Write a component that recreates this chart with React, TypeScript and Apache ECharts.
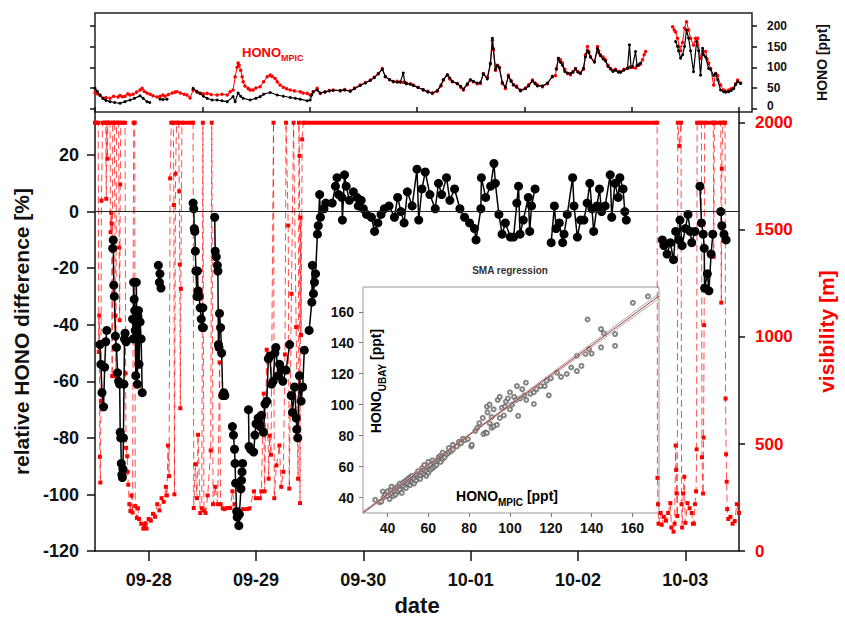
import React, { useEffect, useRef } from 'react';
import * as echarts from 'echarts';

const FONT = '"Liberation Sans", Arial, Helvetica, sans-serif';

// ---------- axes ----------
const dateTicks = [1, 2, 3, 4, 5, 6];
const dateLabels = ['09-28', '09-29', '09-30', '10-01', '10-02', '10-03'];
const halfDayTicks = [0.5, 1.5, 2.5, 3.5, 4.5, 5.5, 6.5];
const relTicks = [-120, -100, -80, -60, -40, -20, 0, 20];
const visTicks = [0, 500, 1000, 1500, 2000];
const honoTicks = [0, 50, 100, 150, 200];
const insetTicks = [40, 60, 80, 100, 120, 140, 160];

// ---------- top panel: HONO [ppt], x = days since 09-27 00:00 ----------
const honoMPIC: (number[] | null)[] = [
  [0.5, 39], [0.52, 36], [0.546, 32], [0.573, 25], [0.6, 27], [0.637, 25], [0.67, 30], [0.71, 28], [0.729, 32], [0.75, 29],
  [0.774, 30], [0.8, 36], [0.82, 33], [0.847, 35], [0.88, 40], [0.911, 45], [0.93, 49], [0.95, 42], [0.975, 38], [1.003, 35],
  [1.03, 31], [1.067, 28], [1.094, 30], [1.12, 33], [1.14, 30], [1.17, 34], [1.204, 38], [1.23, 40], [1.25, 41], [1.28, 38],
  [1.314, 35], [1.34, 33], [1.368, 26], [1.396, 45], [1.432, 40], [1.46, 37], [1.49, 36], [1.524, 37], [1.56, 34], [1.615, 33],
  [1.66, 35], [1.707, 33], [1.734, 41], [1.761, 45], [1.78, 77], [1.798, 100], [1.807, 110], [1.816, 105], [1.83, 93], [1.844, 77],
  [1.853, 65], [1.87, 55], [1.899, 49], [1.917, 45], [1.944, 45], [1.97, 50], [2.008, 53], [2.04, 65], [2.072, 77], [2.1, 81],
  [2.118, 78], [2.145, 73], [2.164, 65], [2.19, 57], [2.22, 52], [2.25, 48], [2.283, 45], [2.32, 43], [2.374, 41], [2.4, 38],
  [2.438, 37], [2.465, 33], [2.493, 41], [2.529, 49], [2.557, 37], [2.6, 41], [2.64, 44], [2.676, 45], [2.74, 43], [2.78, 46],
  [2.831, 43], [2.87, 50], [2.922, 57], [2.97, 63], [3.014, 69], [3.05, 76], [3.087, 85], [3.124, 97], [3.151, 77], [3.19, 70],
  [3.224, 65], [3.26, 66], [3.288, 65], [3.315, 64], [3.343, 62], [3.38, 60], [3.407, 57], [3.45, 52], [3.498, 45], [3.54, 42],
  [3.581, 37], [3.626, 42], [3.66, 55], [3.681, 69], [3.718, 81], [3.74, 72], [3.763, 65], [3.809, 61], [3.84, 52], [3.864, 45],
  [3.9, 58], [3.928, 69], [3.955, 65], [3.99, 60], [4.019, 61], [4.047, 85], [4.083, 75], [4.111, 110], [4.129, 165], [4.138, 142],
  [4.157, 93], [4.175, 105], [4.193, 100], [4.22, 61], [4.248, 49], [4.275, 81], [4.3, 68], [4.321, 57], [4.35, 55], [4.385, 45],
  [4.431, 50], [4.46, 58], [4.495, 69], [4.52, 62], [4.54, 57], [4.586, 53], [4.632, 60], [4.677, 77], [4.705, 80], [4.714, 97],
  [4.732, 120], [4.75, 118], [4.769, 110], [4.79, 95], [4.815, 85], [4.842, 82], [4.865, 90], [4.888, 97], [4.91, 90], [4.933, 85],
  [4.961, 95], [4.979, 130], [4.997, 150], [5.01, 138], [5.025, 126], [5.061, 114], [5.089, 150], [5.1, 140], [5.116, 130], [5.14, 125],
  [5.162, 118], [5.185, 105], [5.208, 97], [5.23, 92], [5.253, 95], [5.28, 90], [5.299, 89], [5.33, 95], [5.363, 97], [5.381, 100],
  [5.409, 100], [5.436, 98], [5.464, 105], [5.482, 108], [5.5, 118], [5.515, 130], [5.528, 138], null,
  [5.775, 198], [5.79, 190], [5.802, 185], [5.82, 170], [5.835, 150], [5.848, 140], [5.866, 160], [5.884, 195], [5.902, 210], [5.921, 190],
  [5.939, 170], [5.966, 154], [5.985, 170], [6.003, 170], [6.03, 122], [6.049, 140], [6.076, 138], [6.09, 120], [6.104, 110], [6.122, 97],
  [6.15, 57], [6.168, 85], [6.186, 80], [6.213, 57], [6.241, 45], [6.26, 42], [6.287, 45], [6.31, 48], [6.332, 50], [6.35, 60],
  [6.369, 69], [6.396, 62],
];

const honoUBAY: (number[] | null)[] = [
  [0.5, 49], [0.52, 42], [0.546, 33], [0.573, 25], [0.6, 20], [0.637, 17], [0.68, 15], [0.729, 13], [0.774, 17], [0.82, 21],
  [0.86, 25], [0.911, 31], [0.94, 25], [0.975, 17], [1.0, 15], null,
  [1.094, 23], [1.12, 22], [1.158, 23], null,
  [1.396, 49], [1.43, 42], [1.46, 37], [1.49, 30], [1.524, 25], [1.57, 21], [1.615, 21], [1.66, 19], [1.707, 17], [1.761, 29],
  [1.78, 17], [1.807, 38], [1.83, 30], [1.853, 25], [1.917, 21], [1.97, 25], [2.008, 29], [2.04, 35], [2.1, 39], [2.164, 33],
  [2.22, 30], [2.283, 27], [2.33, 25], [2.374, 23], [2.438, 19], [2.465, 21], [2.48, 33], [2.493, 41], [2.529, 45], [2.557, 38],
  [2.6, 40], [2.64, 43], [2.676, 44], [2.74, 44], [2.78, 45], [2.831, 42], [2.87, 48], [2.922, 56], [2.97, 62], [3.014, 68],
  [3.05, 75], [3.087, 84], [3.124, 95], [3.151, 78], [3.19, 70], [3.224, 66], [3.26, 64], [3.288, 64], [3.315, 86], [3.33, 63],
  [3.343, 60], [3.38, 59], [3.407, 56], [3.45, 51], [3.498, 46], [3.54, 40], [3.581, 38], [3.626, 44], [3.66, 57], [3.681, 70],
  [3.718, 82], [3.74, 74], [3.763, 66], [3.809, 60], [3.84, 54], [3.864, 47], [3.9, 60], [3.928, 70], [3.955, 66], [3.99, 62],
  [4.019, 63], [4.047, 84], [4.083, 72], [4.111, 108], [4.129, 170], [4.138, 145], [4.157, 95], [4.175, 104], [4.193, 98], [4.22, 63],
  [4.248, 52], [4.275, 78], [4.3, 66], [4.321, 58], [4.35, 52], [4.385, 43], [4.431, 48], [4.46, 55], [4.495, 67], [4.52, 60],
  [4.54, 55], [4.586, 55], [4.632, 62], [4.677, 78], null,
  [4.714, 95], [4.732, 122], [4.75, 112], [4.769, 105], [4.79, 90], [4.815, 86], [4.842, 85], [4.865, 88], [4.888, 96], [4.91, 88],
  [4.933, 86], [4.961, 98], [4.979, 125], [4.997, 140], [5.01, 135], [5.025, 124], [5.061, 112], [5.089, 145], [5.1, 135], [5.116, 128],
  [5.14, 120], [5.162, 115], [5.185, 102], [5.208, 96], [5.23, 90], [5.253, 93], [5.28, 88], [5.299, 88], [5.33, 93], [5.363, 98],
  [5.381, 154], [5.395, 100], [5.409, 102], [5.436, 138], [5.45, 104], [5.464, 106], [5.482, 110], null,
  [5.802, 162], [5.82, 150], [5.829, 140], [5.848, 122], [5.866, 130], [5.884, 150], [5.902, 190], [5.921, 170], [5.939, 140], [5.966, 89],
  [5.994, 162], [6.012, 140], [6.03, 81], [6.049, 146], [6.058, 130], [6.076, 125], [6.104, 97], [6.122, 95], [6.15, 80], [6.168, 85],
  [6.186, 70], [6.213, 45], [6.241, 41], [6.26, 40], [6.287, 41], [6.31, 44], [6.332, 48], [6.35, 58], [6.369, 65], [6.396, 61],
];

// ---------- main panel: relative HONO difference [%] ----------
const relDiff: (number[] | null)[] = [
  [0.546, -47], [0.555, -54], [0.565, -64], [0.58, -69], [0.59, -55], [0.6, -46], [0.61, -42], null,
  [0.665, -13], [0.67, -10], [0.675, -26], [0.68, -30], [0.69, -44], [0.7, -48], [0.71, -57], [0.72, -60], [0.73, -61], [0.735, -78],
  [0.74, -80], [0.745, -89], [0.75, -93], [0.755, -94], [0.76, -91], [0.765, -80], [0.77, -61], [0.775, -45], [0.78, -43], [0.79, -46], null,
  [0.85, -38], [0.855, -45], [0.86, -25], [0.865, -31], [0.87, -35], [0.875, -42], [0.88, -58], [0.885, -25], [0.89, -39], [0.895, -61],
  [0.9, -37], [0.905, -35], [0.91, -54], [0.92, -39], [0.93, -45], [0.94, -64], null,
  [1.09, -19], [1.1, -25], [1.105, -22], [1.115, -27], null,
  [1.414, 3], [1.42, 1], [1.425, -6], [1.43, -7], [1.435, -14], [1.44, -21], [1.45, -30], [1.455, -21], [1.46, -28], [1.47, -30],
  [1.48, -34], [1.49, -38], [1.5, -41], [1.505, -34], [1.51, -41], null,
  [1.615, -2], [1.62, -14], [1.63, -16], [1.64, -19], [1.645, -21], [1.65, -47], [1.655, -48], [1.66, -36], [1.67, -41], [1.68, -50],
  [1.69, -65], [1.7, -64], [1.71, -65], null,
  [1.78, -76], [1.79, -79], [1.8, -84], [1.805, -89], [1.81, -96], [1.82, -106], [1.825, -108], [1.84, -111], [1.845, -107], [1.86, -98],
  [1.865, -95], [1.87, -92], [1.875, -89], null,
  [1.93, -70], [1.935, -83], [1.95, -84], [1.978, -85], [1.99, -79], [2.0, -75], [2.02, -73], [2.038, -76], [2.05, -72], [2.07, -78],
  [2.084, -68], [2.1, -67], [2.115, -52], [2.13, -51], [2.145, -61], [2.16, -60], [2.176, -50], [2.185, -48], [2.206, -58], [2.22, -54],
  [2.236, -56], [2.25, -60], [2.28, -56], [2.313, -47], null,
  [2.328, -65], [2.34, -71], [2.36, -62], [2.374, -73], [2.38, -77], [2.389, -80], [2.405, -58], [2.42, -67], [2.435, -62], [2.45, -49], null,
  [2.495, -42], [2.52, -32], [2.525, -19], [2.535, -29], [2.545, -25], [2.555, -22], [2.572, -8], [2.58, -5], [2.593, 6], [2.6, -2],
  [2.633, 1], [2.65, 3], [2.71, 3], [2.74, 9], [2.755, 12], [2.77, 6], [2.8, 5], [2.805, -3], [2.825, 13], [2.84, 9],
  [2.87, 4], [2.907, 7], [2.94, 5], [2.953, 2], [2.98, 4], [3.0, 1], [3.03, -1], [3.075, -2], [3.105, -7], [3.135, -4],
  [3.165, -1], [3.196, 1], [3.24, 2], [3.29, -2], [3.32, 5], [3.35, 0], [3.38, -4], [3.41, 7], [3.455, 2], [3.5, 15],
  [3.516, -3], [3.546, 8], [3.577, 14], [3.62, 6], [3.67, 1], [3.7, 10], [3.73, 6], [3.775, 12], [3.806, 4], [3.85, 8],
  [3.9, 1], [3.943, -2], [3.99, -4], [4.035, -6], [4.05, -10], [4.095, 1], [4.1, 12], [4.14, 5], [4.186, 9], [4.217, 17],
  [4.23, 10], [4.263, -1], [4.293, -8], [4.323, -4], [4.37, -9], [4.4, -9], [4.43, 3], [4.446, 9], [4.46, -8], [4.49, -3],
  [4.537, 5], [4.55, -7], [4.567, 2], [4.6, 8], null,
  [4.75, -11], [4.78, 2], [4.796, -6], [4.826, -4], [4.857, -11], [4.87, -8], [4.9, -1], [4.95, 12], [4.963, 2], [4.994, -9],
  [5.024, -3], [5.055, -3], [5.085, 3], [5.11, 10], [5.13, 1], [5.146, -7], [5.177, 2], [5.2, 8], [5.22, 0], [5.253, 2],
  [5.3, 13], [5.314, -2], [5.344, 10], [5.375, 5], [5.39, 12], [5.42, 8], [5.436, 0], [5.45, -3], null,
  [5.786, -10], [5.8, -12], [5.83, -15], [5.86, -11], [5.89, -17], [5.91, -7], [5.94, -10], [5.95, -3], [5.97, -12], [6.0, -6],
  [6.025, -1], [6.045, -7], [6.06, -11], [6.09, -7], null,
  [6.136, 9], [6.15, -4], [6.167, -8], [6.176, -13], [6.18, -27], [6.205, -22], [6.22, -28], [6.24, -15], [6.256, -8], null,
  [6.33, 0], [6.34, -5], [6.36, -8], [6.38, -10],
];

// ---------- main panel: visibility [m] ----------
const visibility: number[][] = [
  [0.5, 2000], [0.53, 2000], [0.535, 930], [0.54, 1100], [0.545, 440], [0.55, 320], [0.555, 700], [0.56, 1636], [0.57, 2000], [0.6, 2000],
  [0.605, 1645], [0.61, 2000], [0.615, 1832], [0.62, 2000], [0.64, 2000], [0.645, 1489], [0.65, 1580], [0.655, 1530], [0.66, 817], [0.665, 2000],
  [0.68, 2000], [0.69, 1100], [0.695, 817], [0.7, 2000], [0.72, 2000], [0.725, 1417], [0.73, 1078], [0.735, 1712], [0.74, 2000], [0.78, 2000],
  [0.785, 830], [0.79, 482], [0.8, 443], [0.805, 370], [0.81, 310], [0.82, 219], [0.83, 187], [0.84, 260], [0.85, 180], [0.86, 2000],
  [0.87, 2000], [0.875, 210], [0.89, 155], [0.9, 200], [0.91, 150], [0.93, 128], [0.95, 105], [0.96, 120], [0.97, 130], [0.98, 105],
  [1.0, 150], [1.02, 142], [1.04, 174], [1.06, 160], [1.08, 219], [1.1, 190], [1.12, 247], [1.14, 230], [1.16, 300], [1.17, 260],
  [1.18, 493], [1.19, 350], [1.2, 1740], [1.21, 2000], [1.23, 2000], [1.235, 1616], [1.24, 265], [1.25, 1762], [1.26, 2000], [1.28, 2000],
  [1.285, 1680], [1.29, 1338], [1.295, 667], [1.3, 1224], [1.31, 2000], [1.414, 2000], [1.42, 201], [1.435, 406], [1.45, 247], [1.46, 543],
  [1.48, 178], [1.495, 200], [1.505, 2000], [1.515, 190], [1.53, 178], [1.55, 260], [1.578, 470], [1.588, 2000], [1.6, 219], [1.62, 300],
  [1.643, 219], [1.661, 881], [1.67, 219], [1.69, 200], [1.706, 196], [1.73, 201], [1.761, 201], [1.78, 279], [1.8, 219], [1.82, 170],
  [1.853, 187], [1.88, 196], [1.917, 196], [1.94, 200], [1.981, 279], [2.0, 247], [2.036, 247], [2.05, 279], [2.072, 735], [2.08, 279],
  [2.1, 940], [2.118, 338], [2.127, 539], [2.14, 450], [2.163, 2000], [2.17, 247], [2.19, 400], [2.218, 493], [2.235, 300], [2.255, 370],
  [2.27, 918], [2.28, 2000], [2.3, 1520], [2.31, 292], [2.33, 1201], [2.35, 2000], [2.374, 1046], [2.392, 338], [2.4, 2000], [2.405, 1845],
  [2.41, 224], [2.415, 1557], [2.42, 1009], [2.43, 1922], [2.44, 2000], [5.737, 2000], [5.74, 342], [5.745, 219], [5.75, 128], [5.77, 178],
  [5.78, 123], [5.8, 160], [5.82, 142], [5.84, 178], [5.86, 224], [5.87, 110], [5.89, 91], [5.9, 128], [5.91, 493], [5.915, 379],
  [5.92, 269], [5.925, 164], [5.93, 2000], [5.945, 1892], [5.96, 2000], [5.965, 219], [5.97, 110], [5.98, 269], [5.99, 347], [6.0, 132],
  [6.02, 224], [6.04, 200], [6.06, 178], [6.07, 128], [6.08, 128], [6.09, 219], [6.1, 279], [6.105, 475], [6.11, 2000], [6.15, 2000],
  [6.155, 438], [6.165, 269], [6.17, 530], [6.175, 1055], [6.18, 2000], [6.26, 2000], [6.265, 1374], [6.27, 2000], [6.33, 2000], [6.335, 1160],
  [6.34, 1785], [6.35, 2000], [6.37, 2000], [6.375, 712], [6.38, 452], [6.385, 324], [6.39, 196], [6.4, 150], [6.42, 160], [6.44, 128],
  [6.46, 140], [6.48, 219], [6.5, 178],
];

// ---------- inset: HONO_MPIC vs HONO_UBAY [ppt] ----------
const insetPoints: number[][] = [
  [34, 38.5], [36, 37], [37, 37.4], [37.7, 43.9], [38, 40], [39, 42], [40, 41], [40, 44], [41, 39], [41.5, 45],
  [42, 43], [42, 47], [43, 41], [43.5, 44], [44, 46], [44, 42], [45, 47], [45, 44], [46, 45], [46, 49],
  [47, 43], [47, 48], [48, 47], [48, 50], [49, 46], [49, 51], [50, 49], [50, 52], [51, 48], [51, 53],
  [52, 50], [52, 54], [53, 52], [53, 49], [54, 55], [54, 51], [55, 53], [55, 57], [56, 54], [56, 52],
  [57, 56], [57, 59], [58, 55], [58, 58], [58, 61], [59, 57], [59, 54], [60, 60], [60, 56], [60, 63],
  [61, 58], [61, 61], [62, 59], [62, 64], [63, 62], [63, 60], [64, 63], [64, 61], [65, 64], [65, 66],
  [66, 63], [66, 67], [67, 65], [67, 69], [68, 66], [69, 68], [70, 69], [70, 72], [71, 70], [72, 74],
  [72, 71], [74, 73], [75, 76], [76, 75], [77, 78], [78, 77], [79.4, 77.8], [81, 73], [81.3, 74], [83, 83],
  [84, 85], [85, 88], [86.7, 91.4], [87, 81], [88, 82], [88.7, 81.7], [88.7, 98.7], [89, 95], [90, 88], [90, 100],
  [91, 85], [91, 92], [92, 97], [92, 86], [93.6, 87], [94, 103], [95, 91.4], [95, 105], [96, 98], [97, 93],
  [97.5, 98.7], [98, 102], [99, 104], [100, 97], [100, 108], [101, 100], [102, 105], [103, 103], [103.4, 112], [104, 92.7],
  [105, 104], [106, 110], [107, 106], [107.8, 114.2], [108, 103], [110, 107], [111.7, 100.4], [111.7, 108], [113, 110], [115, 112],
  [117, 112], [118, 115.5], [119, 106], [120, 117], [123, 120.6], [125, 118], [127.8, 119.8], [130, 124], [132.8, 121.7], [132.8, 131.6],
  [135, 125], [137, 132.7], [138.7, 136], [138, 155], [140, 133], [144.6, 148.8], [144.6, 137], [146, 146], [151.5, 145.6], [151.5, 138],
  [160.2, 165.8], [167.6, 170],
];
const smaFit = [[28, 30.3], [173, 170.2]];
const smaUpper = [[28, 31.0], [75, 76.0], [173, 171.9]];
const smaLower = [[28, 29.6], [75, 75.4], [173, 168.5]];

const gap = (arr: (number[] | null)[]) => arr.map((p) => (p === null ? ['-', '-'] : p));

// runs where visibility sits at its 2000 m ceiling are drawn as a solid bar
const ceilingRuns = (arr: number[][]) => {
  const out: any[] = [];
  for (let i = 0; i < arr.length; i++) {
    const atMax = arr[i][1] >= 2000;
    const prevMax = i > 0 && arr[i - 1][1] >= 2000;
    const nextMax = i < arr.length - 1 && arr[i + 1][1] >= 2000;
    if (atMax && (prevMax || nextMax)) {
      out.push(arr[i]);
      if (!nextMax) out.push(['-', '-']);
    }
  }
  return out;
};

const BLACK = '#111';
const RED = '#ff0000';
const axLine = { color: BLACK, width: 1.5 };

export default function App() {
  const ref = useRef<HTMLDivElement>(null);

  useEffect(() => {
    document.body.style.margin = '0';
    if (!ref.current) return;
    const chart = echarts.init(ref.current, undefined, { renderer: 'svg' });

    const sub = (fs: number, color: string) => ({
      a: { fontSize: fs, fontWeight: 'bold', fontFamily: FONT, color, lineHeight: fs + 2, verticalAlign: 'top' },
      s: { fontSize: Math.round(fs * 0.68), fontWeight: 'bold', fontFamily: FONT, color, lineHeight: fs, padding: [Math.round(fs * 0.55), 0, 0, 0], verticalAlign: 'top' },
    });

    const option: any = {
      animation: false,
      backgroundColor: '#fff',
      textStyle: { fontFamily: FONT },
      grid: [
        { left: 95, right: 93, top: 13, height: 99, show: true, borderColor: '#222', borderWidth: 1.5, backgroundColor: 'transparent' },
        { left: 95, right: 93, top: 112, height: 449 },
        { left: 363, width: 296, top: 287, height: 226, show: true, borderColor: '#9a9a9a', borderWidth: 1, backgroundColor: '#fff' },
      ],
      xAxis: [
        { gridIndex: 0, type: 'value', min: 0.5, max: 6.5, show: false },
        {
          gridIndex: 1, type: 'value', min: 0.5, max: 6.5,
          splitLine: { show: false },
          axisLine: { show: true, onZero: false, lineStyle: axLine },
          axisTick: { show: true, customValues: dateTicks, length: 10, lineStyle: axLine },
          axisLabel: {
            customValues: dateTicks,
            formatter: (v: number) => dateLabels[Math.round(v) - 1] ?? '',
            fontSize: 18, fontWeight: 'bold', color: BLACK, margin: 20, fontFamily: FONT,
          },
          name: 'date', nameLocation: 'middle', nameGap: 40,
          nameTextStyle: { fontSize: 22, fontWeight: 'bold', color: BLACK, fontFamily: FONT },
        },
        {
          gridIndex: 1, type: 'value', min: 0.5, max: 6.5,
          splitLine: { show: false },
          axisLine: { show: false, onZero: false },
          axisTick: { show: true, customValues: halfDayTicks, length: 5, lineStyle: axLine },
          axisLabel: { show: false },
        },
        {
          gridIndex: 2, type: 'value', min: 28, max: 173,
          splitLine: { show: false },
          axisLine: { show: false, onZero: false },
          axisTick: { show: true, customValues: insetTicks, length: 4, lineStyle: { color: '#777' } },
          axisLabel: { customValues: insetTicks, fontSize: 14, fontWeight: 'bold', color: BLACK, margin: 8, fontFamily: FONT },
        },
      ],
      yAxis: [
        {
          gridIndex: 0, type: 'value', position: 'right', min: -8, max: 231,
          splitLine: { show: false },
          axisLine: { show: false, onZero: false },
          axisTick: { show: true, customValues: honoTicks, length: 5, lineStyle: axLine },
          axisLabel: {
            customValues: honoTicks, fontSize: 12, fontWeight: 'bold', color: BLACK, margin: 15, fontFamily: FONT,
            formatter: (v: number) => (v === 0 ? '{z|0}' : String(v)),
            rich: { z: { fontSize: 12, fontWeight: 'bold', fontFamily: FONT, color: BLACK, padding: [0, 0, 5, 0] } },
          },
          name: 'HONO [ppt]', nameLocation: 'middle', nameRotate: 90, nameGap: 63,
          nameTextStyle: { fontSize: 14, fontWeight: 'bold', color: BLACK, fontFamily: FONT },
        },
        {
          gridIndex: 0, type: 'value', position: 'left', min: -8, max: 231,
          splitLine: { show: false },
          axisLine: { show: false, onZero: false },
          axisTick: { show: true, customValues: honoTicks, length: 5, lineStyle: axLine },
          axisLabel: { show: false },
        },
        {
          gridIndex: 1, type: 'value', position: 'left', min: -120, max: 35.2,
          splitLine: { show: false },
          axisLine: { show: true, onZero: false, lineStyle: axLine },
          axisTick: { show: true, customValues: relTicks, length: 8, lineStyle: axLine },
          axisLabel: { customValues: relTicks, fontSize: 18, fontWeight: 'bold', color: BLACK, margin: 16, fontFamily: FONT },
          name: 'relative HONO difference [%]', nameLocation: 'middle', nameRotate: 90, nameGap: 63,
          nameTextStyle: { fontSize: 21, fontWeight: 'bold', color: BLACK, fontFamily: FONT },
        },
        {
          gridIndex: 1, type: 'value', position: 'right', min: 0, max: 2050,
          splitLine: { show: false },
          axisLine: { show: true, onZero: false, lineStyle: axLine },
          axisTick: { show: true, customValues: visTicks, length: 6, lineStyle: axLine },
          axisLabel: {
            customValues: visTicks, formatter: (v: number) => String(v),
            fontSize: 17, fontWeight: 'bold', color: RED, margin: 16, fontFamily: FONT,
          },
          name: 'visibility [m]', nameLocation: 'middle', nameRotate: 90, nameGap: 77,
          nameTextStyle: { fontSize: 21, fontWeight: 'bold', color: RED, fontFamily: FONT },
        },
        {
          gridIndex: 2, type: 'value', min: 30, max: 176,
          splitLine: { show: false },
          axisLine: { show: false, onZero: false },
          axisTick: { show: true, customValues: insetTicks, length: 4, lineStyle: { color: '#777' } },
          axisLabel: { customValues: insetTicks, fontSize: 14, fontWeight: 'bold', color: BLACK, margin: 9, fontFamily: FONT },
        },
      ],
      series: [
        {
          name: 'HONO MPIC', type: 'line', xAxisIndex: 0, yAxisIndex: 0, data: gap(honoMPIC),
          symbol: 'circle', symbolSize: 3.5, showAllSymbol: true, connectNulls: false,
          itemStyle: { color: RED }, lineStyle: { color: RED, width: 1 }, z: 2,
        },
        {
          name: 'HONO UBAY', type: 'line', xAxisIndex: 0, yAxisIndex: 0, data: gap(honoUBAY),
          symbol: 'circle', symbolSize: 3, showAllSymbol: true, connectNulls: false,
          itemStyle: { color: '#000' }, lineStyle: { color: '#000', width: 1.2 }, z: 3,
        },
        {
          name: 'visibility', type: 'line', xAxisIndex: 1, yAxisIndex: 3, data: visibility,
          symbol: 'rect', symbolSize: 4, showAllSymbol: true,
          itemStyle: { color: RED }, lineStyle: { color: 'rgba(255,0,0,0.7)', width: 1, type: [7, 4] }, z: 2,
        },
        {
          name: 'visibility ceiling', type: 'line', xAxisIndex: 1, yAxisIndex: 3, data: ceilingRuns(visibility),
          symbol: 'none', connectNulls: false,
          lineStyle: { color: RED, width: 4 }, z: 2,
        },
        {
          name: 'relative difference', type: 'line', xAxisIndex: 1, yAxisIndex: 2, data: gap(relDiff),
          symbol: 'circle', symbolSize: 9, showAllSymbol: true, connectNulls: false,
          itemStyle: { color: '#000' }, lineStyle: { color: '#000', width: 1.5 }, z: 4,
          markLine: {
            silent: true, symbol: ['none', 'none'], label: { show: false },
            lineStyle: { color: '#222', width: 1, type: 'solid' },
            data: [{ yAxis: 0 }],
          },
        },
        {
          name: 'inset', type: 'scatter', xAxisIndex: 3, yAxisIndex: 4, data: insetPoints,
          symbol: 'emptyCircle', symbolSize: 4,
          itemStyle: { color: '#666', borderColor: '#666', borderWidth: 0.6 }, z: 5,
        },
        {
          name: 'upper', type: 'line', xAxisIndex: 3, yAxisIndex: 4, data: smaUpper, symbol: 'none',
          lineStyle: { color: '#aaa', width: 1 }, z: 6,
        },
        {
          name: 'lower', type: 'line', xAxisIndex: 3, yAxisIndex: 4, data: smaLower, symbol: 'none',
          lineStyle: { color: '#aaa', width: 1 }, z: 6,
        },
        {
          name: 'SMA fit', type: 'line', xAxisIndex: 3, yAxisIndex: 4, data: smaFit, symbol: 'none',
          lineStyle: { color: '#b03a2e', width: 1 }, z: 7,
        },
      ],
      graphic: [
        {
          type: 'text', x: 242, y: 46, z: 100,
          style: { text: '{a|HONO}{s|MPIC}', rich: sub(13, RED), fill: RED },
        },
        {
          type: 'text', x: 510, y: 270, z: 100,
          style: { text: 'SMA regression', fontSize: 10, fontWeight: 'bold', fill: '#333', fontFamily: FONT, align: 'center', verticalAlign: 'middle' },
        },
        {
          type: 'text', x: 507, y: 497, z: 100,
          style: { text: '{a|HONO}{s|MPIC}{a| [ppt]}', rich: sub(14, BLACK), align: 'center', verticalAlign: 'middle' },
        },
        {
          type: 'text', x: 377, y: 381, rotation: Math.PI / 2, z: 100,
          style: { text: '{a|HONO}{s|UBAY}{a| [ppt]}', rich: sub(14, BLACK), align: 'center', verticalAlign: 'middle' },
        },
      ],
    };

    chart.setOption(option);
    return () => chart.dispose();
  }, []);

  return <div ref={ref} style={{ width: 845, height: 621 }} />;
}
